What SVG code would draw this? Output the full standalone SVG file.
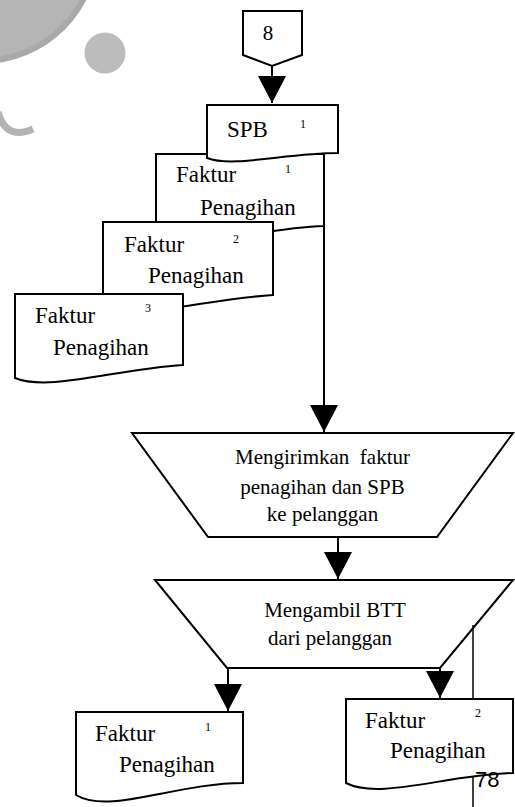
<svg xmlns="http://www.w3.org/2000/svg" width="515" height="807" viewBox="0 0 515 807">
  <defs>
    <style>
      .shape { fill: #ffffff; stroke: #000000; stroke-width: 2; stroke-linejoin: miter; }
      .conn { fill: none; stroke: #000000; stroke-width: 2; }
      .lbl { font-family: "Liberation Serif", "Times New Roman", serif; font-size: 23px; fill: #000000; }
      .proc { font-family: "Liberation Serif", "Times New Roman", serif; font-size: 21px; fill: #000000; text-anchor: middle; white-space: pre; }
      .sup { font-family: "Liberation Serif", "Times New Roman", serif; font-size: 12px; fill: #000000; }
      .page { font-family: "Liberation Sans", Arial, sans-serif; font-size: 22px; fill: #000000; }
    </style>
    <marker id="arrow" viewBox="0 0 27 28" refX="27" refY="14" markerWidth="27" markerHeight="28" markerUnits="userSpaceOnUse" orient="auto">
      <path d="M0,0 L27,14 L0,28 Z" fill="#000000"/>
    </marker>
  </defs>

  <rect width="515" height="807" fill="#ffffff"/>

  <!-- background ornament -->
  <g id="ornament">
    <circle cx="-18" cy="-53" r="117" fill="#a9a9a9"/>
    <circle cx="-18" cy="-53" r="111" fill="#b5b5b5"/>
    <circle cx="105" cy="53" r="20.5" fill="#bcbcbc"/>
    <path d="M -2 112 Q 6 141 33 129" fill="none" stroke="#b3b3b3" stroke-width="7"/>
  </g>

  <!-- connectors -->
  <g id="connectors">
    <line class="conn" x1="272" y1="66" x2="272" y2="103" marker-end="url(#arrow)"/>
    <line class="conn" x1="324" y1="153" x2="324" y2="432" marker-end="url(#arrow)"/>
    <line class="conn" x1="338" y1="537" x2="338" y2="579" marker-end="url(#arrow)"/>
    <line class="conn" x1="228" y1="668" x2="228" y2="711" marker-end="url(#arrow)"/>
    <line class="conn" x1="440" y1="668" x2="440" y2="698" marker-end="url(#arrow)"/>
  </g>

  <!-- off-page connector -->
  <g id="offpage-8">
    <path class="shape" d="M243,11 H302 V55 L272,66 L243,55 Z"/>
    <text class="lbl" x="268" y="40" text-anchor="middle" style="font-size:21px">8</text>
  </g>

  <!-- document stack -->
  <g id="doc-faktur-1">
    <path class="shape" d="M156,154 H324 V226 C257,228 190,252 156,238 Z"/>
    <text class="lbl" x="176" y="182">Faktur</text>
    <text class="lbl" x="200" y="215">Penagihan</text>
    <text class="sup" x="285" y="173">1</text>
  </g>

  <g id="doc-spb">
    <path class="shape" d="M207,105 H338 V153 C286,153 233,168 207,158 Z"/>
    <text class="lbl" x="227" y="137">SPB</text>
    <text class="sup" x="300" y="128">1</text>
  </g>

  <g id="doc-faktur-2">
    <path class="shape" d="M103,222 H273 V295 C205,299 137,321 103,307 Z"/>
    <text class="lbl" x="124" y="252">Faktur</text>
    <text class="lbl" x="148" y="283">Penagihan</text>
    <text class="sup" x="233" y="243">2</text>
  </g>

  <g id="doc-faktur-3">
    <path class="shape" d="M15,294 H183 V365 C116,369 49,392 15,378 Z"/>
    <text class="lbl" x="35" y="323">Faktur</text>
    <text class="lbl" x="53" y="355">Penagihan</text>
    <text class="sup" x="145" y="312">3</text>
  </g>

  <!-- manual operations -->
  <g id="op-kirim">
    <path class="shape" d="M132,433 H513 L437,537 H208 Z"/>
    <text class="proc" x="322.5" y="464" xml:space="preserve">Mengirimkan  faktur</text>
    <text class="proc" x="322.5" y="494">penagihan dan SPB</text>
    <text class="proc" x="322.5" y="521">ke pelanggan</text>
  </g>

  <g id="op-btt">
    <path class="shape" d="M155,580 H513 L440,668 H227 Z"/>
    <text class="proc" x="335" y="617">Mengambil BTT</text>
    <text class="proc" x="330" y="645">dari pelanggan</text>
  </g>

  <!-- page margin rule -->
  <line x1="473" y1="625" x2="473" y2="807" stroke="#000000" stroke-width="1.5"/>

  <!-- output documents -->
  <g id="doc-out-1">
    <path class="shape" d="M76,712 H243 V783 C176,783 109,815 76,795 Z"/>
    <text class="lbl" x="95" y="741">Faktur</text>
    <text class="lbl" x="119" y="772">Penagihan</text>
    <text class="sup" x="205" y="731">1</text>
  </g>

  <g id="doc-out-2">
    <path class="shape" d="M346,699 H513 V773 C446,775 379,800 346,783 Z"/>
    <text class="lbl" x="365" y="728">Faktur</text>
    <text class="lbl" x="390" y="758">Penagihan</text>
    <text class="sup" x="475" y="717">2</text>
  </g>

  <text class="page" x="475" y="787">78</text>
</svg>
